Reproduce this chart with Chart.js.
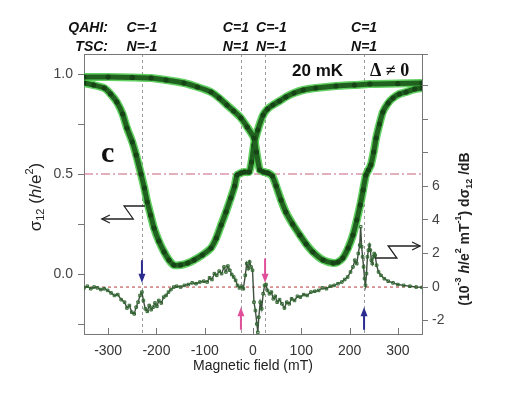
<!DOCTYPE html>
<html>
<head>
<meta charset="utf-8">
<script src="https://cdn.jsdelivr.net/npm/chart.js@4.4.0/dist/chart.umd.min.js"></script>
<style>
  html, body { margin: 0; padding: 0; background: #fff; }
</style>
</head>
<body>
<canvas id="hallChart" width="513" height="398"></canvas>
<script>
// sigma_12 sweep that stays at 1 on the left and switches on the right
const fieldUp = [-350, -300, -250, -211, -180, -143, -115, -87, -70, -54, -40, -25, -12, 2, 7, 14, 22, 31, 40, 48, 58, 68, 82, 97, 110, 124, 145, 166, 176, 186, 197, 207, 215, 222, 228, 234, 239, 244, 250, 255, 262, 269, 280, 290, 303, 317, 335, 350];
const sigmaUp = [0.985, 0.985, 0.983, 0.98, 0.97, 0.955, 0.935, 0.91, 0.88, 0.845, 0.815, 0.78, 0.735, 0.68, 0.61, 0.52, 0.51, 0.505, 0.49, 0.44, 0.37, 0.31, 0.25, 0.195, 0.15, 0.11, 0.07, 0.055, 0.06, 0.08, 0.13, 0.195, 0.27, 0.345, 0.42, 0.495, 0.52, 0.545, 0.61, 0.68, 0.75, 0.81, 0.855, 0.88, 0.9, 0.91, 0.925, 0.93];

// the mirrored sweep
const fieldDown = [-350, -330, -308, -295, -282, -270, -261, -250, -242, -232, -225, -219, -212, -205, -195, -184, -174, -164, -150, -135, -122, -105, -87, -76, -66, -56, -46, -38, -33, -25, -18, -8, -3, 2, 10, 21, 30, 41, 55, 68, 85, 104, 130, 172, 210, 242, 300, 350];
const sigmaDown = [0.955, 0.945, 0.93, 0.9, 0.86, 0.8, 0.73, 0.66, 0.595, 0.5, 0.43, 0.36, 0.295, 0.23, 0.165, 0.11, 0.07, 0.045, 0.045, 0.055, 0.07, 0.095, 0.13, 0.18, 0.245, 0.31, 0.38, 0.44, 0.495, 0.505, 0.51, 0.51, 0.56, 0.645, 0.72, 0.795, 0.825, 0.845, 0.865, 0.885, 0.905, 0.92, 0.93, 0.94, 0.945, 0.95, 0.952, 0.955];

// d sigma_12 / dB (10^-3 h/e^2 mT^-1), right axis
const fieldDeriv = [-350, -343, -336, -329, -322, -315, -308, -301, -294, -287, -280, -273, -266, -261, -256, -251, -246, -242, -238, -234, -230, -227, -223, -219, -215, -211, -207, -203, -199, -195, -190, -185, -180, -175, -170, -164, -158, -150, -142, -134, -126, -118, -110, -102, -95, -90, -85, -80, -75, -70, -65, -60, -56, -52, -48, -44, -40, -36, -32, -28, -24, -20, -16, -13, -10, -7, -4, -1, 2, 5, 8, 10, 12, 15, 18, 21, 24, 27, 30, 34, 38, 42, 46, 50, 55, 60, 65, 70, 75, 80, 86, 92, 98, 105, 112, 120, 128, 136, 144, 152, 160, 168, 176, 184, 190, 196, 202, 207, 211, 215, 218, 221, 223, 225, 227, 229, 231, 233, 235, 237, 239, 241, 243, 245, 247, 249, 251, 253, 256, 260, 265, 272, 280, 290, 300, 312, 325, 338, 350];
const dSigma = [-0.05, 0.05, -0.1, 0.0, -0.05, -0.15, -0.1, -0.2, -0.35, -0.5, -0.45, -0.75, -0.9, -1.25, -1.1, -1.5, -1.6, -1.2, -0.9, -0.5, -0.3, -0.8, -1.3, -1.45, -1.1, -1.35, -1.2, -0.95, -1.15, -0.8, -0.95, -0.6, -0.5, -0.3, -0.15, 0.0, 0.05, 0.0, 0.1, 0.15, 0.25, 0.2, 0.3, 0.35, 0.3, 0.55, 0.45, 0.8, 0.7, 0.95, 0.8, 1.2, 0.9, 1.25, 1.0, 0.75, 0.6, 0.4, 0.1, -0.05, 0.05, -0.1, 0.7, 1.4, 1.1, 1.5, 1.2, 1.0, -0.9, -1.4, -2.2, -2.7, -1.8, -0.9, -1.3, -0.4, 0.1, 0.15, -0.2, -0.4, -0.3, -0.7, -0.55, -0.9, -0.75, -1.0, -1.25, -0.9, -1.0, -0.7, -0.8, -0.55, -0.6, -0.45, -0.5, -0.3, -0.25, -0.2, -0.05, -0.1, 0.05, 0.1, 0.2, 0.3, 0.45, 0.6, 0.9, 1.2, 1.6, 1.4, 2.0, 2.5, 3.6, 2.4, 1.8, 1.2, 0.5, 0.1, 0.8, 1.8, 2.2, 2.5, 2.2, 1.6, 1.4, 1.8, 2.0, 1.9, 1.3, 0.9, 0.7, 0.5, 0.35, 0.25, 0.15, 0.1, 0.05, 0.0, -0.02];

const xTickValues = [-300, -200, -100, 0, 100, 200, 300];
const leftLabelled = [0, 0.5, 1];
const rightLabelled = [-2, 0, 2, 4, 6];
const transitionFields = [-230, -25, 25, 230];
const qahiLabels = ['C=-1', 'C=1', 'C=-1', 'C=1'];
const tscLabels = ['N=-1', 'N=1', 'N=-1', 'N=1'];

const toXY = (xs, ys) => xs.map((x, i) => ({ x: x, y: ys[i] }));
const FONT = '"Liberation Sans", Arial, sans-serif';

function arrow(ctx, x, y1, y2, color) {
  // shaft from y1 to tip at y2
  const dir = y2 > y1 ? 1 : -1;
  ctx.save();
  ctx.strokeStyle = color;
  ctx.fillStyle = color;
  ctx.lineWidth = 2;
  ctx.beginPath();
  ctx.moveTo(x, y1);
  ctx.lineTo(x, y2 - dir * 6);
  ctx.stroke();
  ctx.beginPath();
  ctx.moveTo(x, y2);
  ctx.lineTo(x - 3.5, y2 - dir * 9);
  ctx.lineTo(x + 3.5, y2 - dir * 9);
  ctx.closePath();
  ctx.fill();
  ctx.restore();
}

function zigzag(ctx, pts, color) {
  ctx.save();
  ctx.strokeStyle = color;
  ctx.lineWidth = 1.3;
  ctx.beginPath();
  ctx.moveTo(pts[0][0], pts[0][1]);
  for (let i = 1; i < pts.length; i++) ctx.lineTo(pts[i][0], pts[i][1]);
  ctx.stroke();
  // arrow head on the last point
  const n = pts.length;
  const [ex, ey] = pts[n - 1];
  const dir = ex > pts[n - 2][0] ? 1 : -1;
  ctx.beginPath();
  ctx.moveTo(ex - dir * 8, ey - 4);
  ctx.lineTo(ex, ey);
  ctx.lineTo(ex - dir * 8, ey + 4);
  ctx.stroke();
  ctx.restore();
}

// draws a run of text pieces (sub/superscripts) centred on (cx,cy)
function richWidth(ctx, parts) {
  let w = 0;
  parts.forEach(p => { ctx.font = p.font; w += ctx.measureText(p.t).width; });
  return w;
}
function drawRich(ctx, parts, cx, cy, rot) {
  ctx.save();
  ctx.translate(cx, cy);
  ctx.rotate(rot);
  const w = richWidth(ctx, parts);
  let x = -w / 2;
  ctx.textBaseline = 'middle';
  ctx.textAlign = 'left';
  parts.forEach(p => {
    ctx.font = p.font;
    ctx.fillStyle = p.color || '#222';
    ctx.fillText(p.t, x, p.dy || 0);
    x += ctx.measureText(p.t).width;
  });
  ctx.restore();
}

const extras = {
  id: 'extras',
  beforeDatasetsDraw(chart) {
    const { ctx, chartArea: a, scales } = chart;
    ctx.save();
    // dashed vertical guides at the transitions
    ctx.strokeStyle = '#9a9a9a';
    ctx.lineWidth = 1;
    ctx.setLineDash([3, 3]);
    transitionFields.forEach(f => {
      const px = Math.round(scales.x.getPixelForValue(f)) + 0.5;
      ctx.beginPath();
      ctx.moveTo(px, a.top);
      ctx.lineTo(px, a.bottom);
      ctx.stroke();
    });
    // half plateau line
    const yHalf = scales.y.getPixelForValue(0.5);
    ctx.strokeStyle = '#c8607a';
    ctx.setLineDash([9, 3, 2, 3]);
    ctx.beginPath();
    ctx.moveTo(a.left, yHalf);
    ctx.lineTo(a.right, yHalf);
    ctx.stroke();
    // zero of the derivative
    const yZero = scales.y2.getPixelForValue(0);
    ctx.strokeStyle = '#b83a3a';
    ctx.setLineDash([3, 3]);
    ctx.beginPath();
    ctx.moveTo(a.left, yZero);
    ctx.lineTo(a.right, yZero);
    ctx.stroke();
    ctx.restore();
  },
  afterDraw(chart) {
    const { ctx, chartArea: a, scales } = chart;
    const sx = v => scales.x.getPixelForValue(v);
    const sy = v => scales.y.getPixelForValue(v);
    const sy2 = v => scales.y2.getPixelForValue(v);
    ctx.save();
    // top frame line
    ctx.strokeStyle = '#777';
    ctx.lineWidth = 1;
    ctx.beginPath();
    ctx.moveTo(a.left, a.top + 0.5);
    ctx.lineTo(a.right + 6, a.top + 0.5);
    ctx.stroke();
    // inward ticks on the field axis
    xTickValues.forEach(v => {
      const px = Math.round(sx(v)) + 0.5;
      ctx.beginPath();
      ctx.moveTo(px, a.bottom);
      ctx.lineTo(px, a.bottom - 6);
      ctx.stroke();
    });

    // arrows marking the transitions
    arrow(ctx, sx(-230), sy2(1.6), sy2(0.25), '#2b2b90');
    arrow(ctx, sx(25), sy2(1.7), sy2(0.25), '#e0509a');
    arrow(ctx, sx(-25), sy2(-2.55), sy2(-1.2), '#e0509a');
    arrow(ctx, sx(230), sy2(-2.55), sy2(-1.2), '#2b2b90');

    // axis pointers
    zigzag(ctx, [[sx(-224), sy(0.34)], [sx(-267), sy(0.34)], [sx(-248), sy(0.275)], [sx(-313), sy(0.275)]], '#222');
    zigzag(ctx, [[sx(253), sy(0.08)], [sx(298), sy(0.08)], [sx(280), sy(0.14)], [sx(346), sy(0.14)]], '#222');

    // in-plot labels
    ctx.fillStyle = '#111';
    ctx.textBaseline = 'middle';
    ctx.textAlign = 'left';
    ctx.font = 'bold 17px ' + FONT;
    ctx.fillText('20 mK', 292, 71);
    ctx.font = 'bold 18px "Liberation Serif", "Times New Roman", serif';
    ctx.fillText('\u0394 \u2260 0', 370, 71);
    ctx.font = 'bold 30px "Liberation Serif", "Times New Roman", serif';
    ctx.fillText('c', 101, 154);

    // state labels above the frame
    ctx.font = 'bold italic 14px ' + FONT;
    ctx.textAlign = 'right';
    ctx.fillText('QAHI:', 108, 28);
    ctx.fillText('TSC:', 108, 47);
    const anchors = [
      { x: sx(-230), align: 'center' },
      { x: sx(-25) + 8, align: 'right' },
      { x: sx(25) - 9, align: 'left' },
      { x: sx(230), align: 'center' }
    ];
    anchors.forEach((p, i) => {
      ctx.textAlign = p.align;
      ctx.fillText(qahiLabels[i], p.x, 28);
      ctx.fillText(tscLabels[i], p.x, 47);
    });

    // axis titles
    ctx.textAlign = 'center';
    ctx.font = '14px ' + FONT;
    ctx.fillStyle = '#222';
    ctx.fillText('Magnetic field (mT)', 253, 366);

    const f17 = '17px ' + FONT;
    const f11 = '11px ' + FONT;
    drawRich(ctx, [
      { t: '\u03c3', font: f17 },
      { t: '12', font: f11, dy: 5 },
      { t: ' (', font: f17 },
      { t: 'h', font: 'italic ' + f17 },
      { t: '/e', font: f17 },
      { t: '2', font: f11, dy: -6 },
      { t: ')', font: f17 }
    ], 36, 197, -Math.PI / 2);

    const b14 = 'bold 14px ' + FONT;
    const b9 = 'bold 9px ' + FONT;
    drawRich(ctx, [
      { t: '(10', font: b14 },
      { t: '-3', font: b9, dy: -6 },
      { t: ' ', font: b14 },
      { t: 'h', font: 'bold italic 14px ' + FONT },
      { t: '/e', font: b14 },
      { t: '2', font: b9, dy: -6 },
      { t: ' mT', font: b14 },
      { t: '-1', font: b9, dy: -6 },
      { t: ') d', font: b14 },
      { t: '\u03c3', font: b14 },
      { t: '12', font: b9, dy: 5 },
      { t: ' /dB', font: b14 }
    ], 465, 229, -Math.PI / 2);
    ctx.restore();
  }
};

new Chart(document.getElementById('hallChart'), {
  type: 'line',
  data: {
    datasets: [
      {
        data: toXY(fieldUp, sigmaUp), yAxisID: 'y', order: 1,
        borderColor: '#21611f', borderWidth: 5, tension: 0.2,
        pointRadius: 2.6, pointBackgroundColor: '#174417', pointBorderWidth: 0
      },
      {
        data: toXY(fieldDown, sigmaDown), yAxisID: 'y', order: 1,
        borderColor: '#21611f', borderWidth: 5, tension: 0.2,
        pointRadius: 2.6, pointBackgroundColor: '#174417', pointBorderWidth: 0
      },
      {
        data: toXY(fieldUp, sigmaUp), yAxisID: 'y', order: 2,
        borderColor: 'rgba(70,200,70,0.85)', borderWidth: 8, tension: 0.2, pointRadius: 0
      },
      {
        data: toXY(fieldDown, sigmaDown), yAxisID: 'y', order: 2,
        borderColor: 'rgba(70,200,70,0.85)', borderWidth: 8, tension: 0.2, pointRadius: 0
      },
      {
        data: toXY(fieldDeriv, dSigma), yAxisID: 'y2', order: 3,
        borderColor: '#3f4f3f', borderWidth: 1.4, tension: 0,
        pointRadius: 1.8, pointStyle: 'rect', pointBorderWidth: 1,
        pointBorderColor: '#2f6a2f', pointBackgroundColor: 'rgba(0,0,0,0)'
      }
    ]
  },
  options: {
    responsive: false,
    animation: false,
    layout: { padding: { top: 54, left: 0, right: 0, bottom: 0 } },
    plugins: { legend: { display: false }, tooltip: { enabled: false } },
    scales: {
      x: {
        type: 'linear', min: -350, max: 350,
        afterFit: s => { s.height = 64; },
        afterBuildTicks: s => { s.ticks = xTickValues.map(v => ({ value: v })); },
        grid: { display: false, drawTicks: false },
        border: { color: '#777', width: 1 },
        ticks: { padding: 9, color: '#333', font: { family: FONT, size: 14 } }
      },
      y: {
        position: 'left', min: -0.3, max: 1.1,
        afterFit: s => { s.width = 84; },
        grid: { drawOnChartArea: false, tickLength: 6, color: '#777' },
        border: { color: '#777', width: 1 },
        ticks: {
          stepSize: 0.25, includeBounds: false, padding: 5,
          color: '#444', font: { family: FONT, size: 14 },
          callback: v => leftLabelled.some(l => Math.abs(l - v) < 1e-6) ? v.toFixed(1) : ''
        }
      },
      y2: {
        position: 'right', min: -2.8, max: 13.9,
        afterFit: s => { s.width = 91; },
        grid: { drawOnChartArea: false, tickLength: 6, color: '#777' },
        border: { color: '#777', width: 1 },
        ticks: {
          stepSize: 2, includeBounds: false, padding: 4,
          color: '#444', font: { family: FONT, size: 14 },
          callback: v => rightLabelled.some(l => Math.abs(l - v) < 1e-6) ? String(v) : ''
        }
      }
    }
  },
  plugins: [extras]
});
</script>
</body>
</html>
